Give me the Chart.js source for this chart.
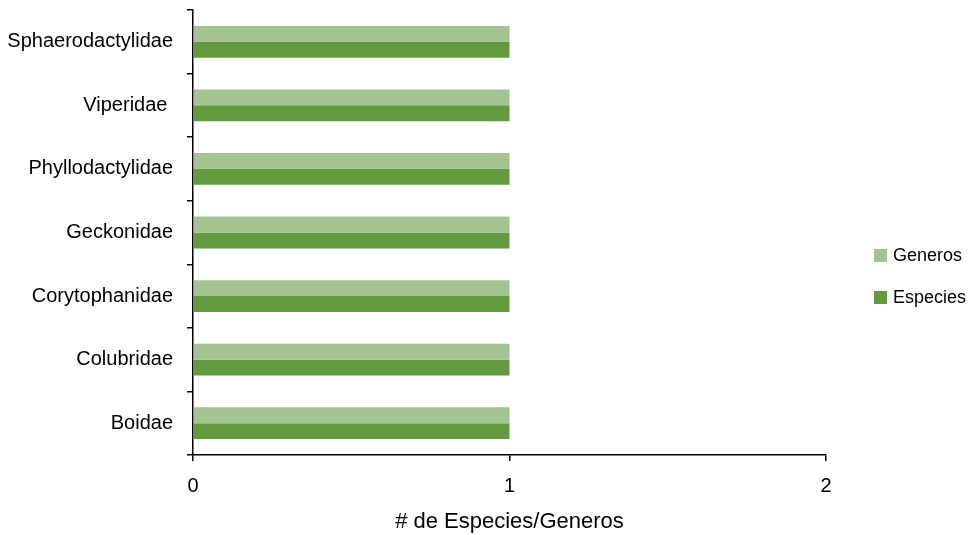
<!DOCTYPE html>
<html lang="es">
<head>
  <meta charset="UTF-8">
  <title>Especies y Generos por familia</title>
  <script src="https://cdn.jsdelivr.net/npm/chart.js"></script>
  <style>
    html, body { margin: 0; padding: 0; background: #fff; }
    .chart-container { width: 974px; height: 535px; }
    canvas { display: block; }
  </style>
</head>
<body>

  <div class="chart-container">
    <canvas id="familiasChart"></canvas>
  </div>

  <script>
    const familias = ["Sphaerodactylidae", "Viperidae ", "Phyllodactylidae", "Geckonidae", "Corytophanidae", "Colubridae", "Boidae"];
    const generos = [1, 1, 1, 1, 1, 1, 1];
    const especies = [1, 1, 1, 1, 1, 1, 1];
    const xTicks = [0, 1, 2];

    const colores = {
      Generos: '#a3c490',
      Especies: '#629a3e'
    };

    const fuente = "'Liberation Sans', Arial, sans-serif";

    // leyenda a la derecha, dibujada a mano
    const leyenda = {
      id: 'leyenda',
      afterDraw(chart) {
        const ctx = chart.ctx;
        const x = chart.chartArea.right + 48;
        let y = 255;
        ctx.save();
        ctx.font = '18px ' + fuente;
        ctx.textBaseline = 'middle';
        chart.data.datasets.forEach(ds => {
          ctx.fillStyle = ds.backgroundColor;
          ctx.fillRect(x, y - 6, 13, 13);
          ctx.fillStyle = '#000';
          ctx.fillText(ds.label, x + 19, y + 1);
          y += 42;
        });
        ctx.restore();
      }
    };

    const ctx = document.getElementById("familiasChart").getContext("2d");

    new Chart(ctx, {
      type: 'bar',
      data: {
        labels: familias,
        datasets: [
          { label: 'Generos', data: generos, backgroundColor: colores.Generos, borderWidth: 0 },
          { label: 'Especies', data: especies, backgroundColor: colores.Especies, borderWidth: 0 }
        ]
      },
      options: {
        indexAxis: 'y',
        responsive: true,
        maintainAspectRatio: false,
        animation: false,
        datasets: {
          bar: { categoryPercentage: 0.5, barPercentage: 1.0 }
        },
        layout: { padding: { top: 10, right: 148, left: 0, bottom: 0 } },
        plugins: {
          legend: { display: false },
          tooltip: { enabled: false }
        },
        scales: {
          x: {
            min: 0,
            max: 2,
            afterBuildTicks: scale => { scale.ticks = xTicks.map(v => ({ value: v })); },
            afterFit: scale => { scale.height = 80; },
            border: { color: '#000', width: 1.5 },
            grid: { drawOnChartArea: false, color: '#000', tickLength: 6, lineWidth: 1.5 },
            ticks: { color: '#000', padding: 13, font: { family: fuente, size: 20 } },
            title: {
              display: true,
              text: '# de Especies/Generos',
              color: '#000',
              font: { family: fuente, size: 22 },
              padding: { top: 0, bottom: 0 }
            }
          },
          y: {
            afterFit: scale => {
              scale.width = 193;
              scale.paddingTop = 0;
              scale.paddingBottom = 0;
            },
            border: { color: '#000', width: 1.5 },
            grid: { offset: true, drawOnChartArea: false, color: '#000', tickLength: 6, lineWidth: 1.5 },
            ticks: { color: '#000', padding: 14, font: { family: fuente, size: 20 } }
          }
        }
      },
      plugins: [leyenda]
    });
  </script>

</body>
</html>
